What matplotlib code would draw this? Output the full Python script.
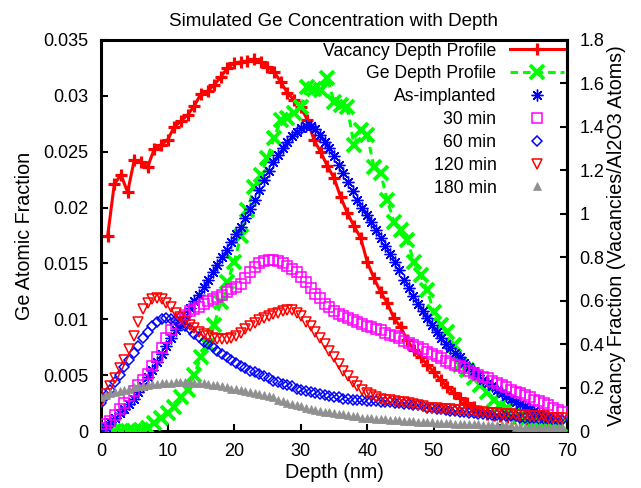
import matplotlib
matplotlib.use("Agg")
import matplotlib.pyplot as plt

plt.rcParams['font.family'] = ['Liberation Sans', 'DejaVu Sans']

# ---- SRIM profiles (right axis units: vacancies / Al2O3 atom) ----
vac_depth = list(range(1, 70))
vac_frac = [0.898, 1.137, 1.179, 1.100, 1.248, 1.238, 1.215, 1.298, 1.317, 1.340,
            1.400, 1.427, 1.455, 1.496, 1.552, 1.565, 1.593, 1.630, 1.671, 1.694,
            1.699, 1.703, 1.713, 1.699, 1.676, 1.653, 1.607, 1.556, 1.524, 1.492,
            1.432, 1.340, 1.284, 1.220, 1.165, 1.077, 1.004, 0.944, 0.889, 0.778,
            0.704, 0.640, 0.589, 0.520, 0.479, 0.419, 0.373, 0.341, 0.304, 0.272,
            0.235, 0.203, 0.175, 0.152, 0.129, 0.110, 0.090, 0.080, 0.075, 0.070,
            0.065, 0.060, 0.055, 0.050, 0.040, 0.020, 0.005, 0.000, 0.000]

ge_depth = list(range(0, 70))
ge_prof = [0.0, 0.0, 0.0, 0.0, 0.0, 0.0, 0.005, 0.014, 0.037, 0.060,
           0.083, 0.110, 0.157, 0.189, 0.258, 0.341, 0.396, 0.488, 0.594, 0.686,
           0.778, 0.898, 1.017, 1.123, 1.179, 1.257, 1.349, 1.432, 1.441, 1.464,
           1.492, 1.584, 1.575, 1.570, 1.625, 1.515, 1.501, 1.492, 1.317, 1.386,
           1.363, 1.215, 1.188, 1.064, 0.962, 0.925, 0.879, 0.778, 0.718, 0.649,
           0.548, 0.488, 0.456, 0.396, 0.304, 0.281, 0.244, 0.212, 0.180, 0.143,
           0.120, 0.106, 0.087, 0.069, 0.055, 0.046, 0.041, 0.037, 0.032, 0.028]

# ---- Annealing simulations (left axis: Ge atomic fraction), 0.7 nm grid ----
depth = [round(0.7 * i, 1) for i in range(100)]
as_impl = [0.0001, 0.0004, 0.0008, 0.0012, 0.0016, 0.0020, 0.0024, 0.0029, 0.0035, 0.0040,
           0.0048, 0.0055, 0.0062, 0.0069, 0.0076, 0.0083, 0.0090, 0.0097, 0.0103, 0.0110,
           0.0116, 0.0122, 0.0129, 0.0135, 0.0142, 0.0149, 0.0156, 0.0162, 0.0169, 0.0176,
           0.0183, 0.0191, 0.0199, 0.0207, 0.0216, 0.0225, 0.0233, 0.0241, 0.0247, 0.0253,
           0.0259, 0.0264, 0.0268, 0.0271, 0.0273, 0.0273, 0.0270, 0.0265, 0.0259, 0.0253,
           0.0246, 0.0238, 0.0231, 0.0223, 0.0215, 0.0207, 0.0200, 0.0193, 0.0187, 0.0180,
           0.0173, 0.0166, 0.0158, 0.0151, 0.0144, 0.0135, 0.0128, 0.0121, 0.0114, 0.0107,
           0.0101, 0.0095, 0.0089, 0.0083, 0.0078, 0.0074, 0.0070, 0.0066, 0.0061, 0.0057,
           0.0054, 0.0050, 0.0046, 0.0043, 0.0040, 0.0037, 0.0034, 0.0031, 0.0029, 0.0026,
           0.0024, 0.0022, 0.0020, 0.0018, 0.0016, 0.0014, 0.0013]
min30 = [0.0003, 0.0006, 0.0009, 0.0014, 0.0020, 0.0025, 0.0031, 0.0036, 0.0041, 0.0046,
         0.0051, 0.0058, 0.0066, 0.0074, 0.0083, 0.0090, 0.0096, 0.0100, 0.0104, 0.0107,
         0.0109, 0.0111, 0.0114, 0.0116, 0.0118, 0.0120, 0.0122, 0.0124, 0.0127, 0.0129,
         0.0132, 0.0137, 0.0142, 0.0147, 0.0150, 0.0152, 0.0153, 0.0153, 0.0152, 0.0150,
         0.0148, 0.0145, 0.0142, 0.0138, 0.0133, 0.0128, 0.0123, 0.0119, 0.0114, 0.0111,
         0.0107, 0.0105, 0.0103, 0.0101, 0.0099, 0.0098, 0.0096, 0.0094, 0.0093, 0.0091,
         0.0090, 0.0088, 0.0086, 0.0085, 0.0083, 0.0081, 0.0079, 0.0077, 0.0075, 0.0073,
         0.0071, 0.0069, 0.0067, 0.0065, 0.0063, 0.0061, 0.0059, 0.0058, 0.0056, 0.0054,
         0.0052, 0.0050, 0.0048, 0.0047, 0.0045, 0.0043, 0.0041, 0.0039, 0.0037, 0.0035,
         0.0034, 0.0032, 0.0030, 0.0028, 0.0027, 0.0025, 0.0023, 0.0021, 0.0019, 0.0017]
min60 = [0.0025, 0.0031, 0.0037, 0.0044, 0.0050, 0.0057, 0.0064, 0.0070, 0.0076, 0.0083,
         0.0089, 0.0094, 0.0098, 0.0100, 0.0101, 0.0100, 0.0099, 0.0096, 0.0094, 0.0091,
         0.0087, 0.0084, 0.0080, 0.0078, 0.0075, 0.0072, 0.0069, 0.0066, 0.0064, 0.0061,
         0.0058, 0.0056, 0.0054, 0.0053, 0.0051, 0.0049, 0.0047, 0.0045, 0.0044, 0.0042,
         0.0041, 0.0040, 0.0038, 0.0037, 0.0036, 0.0035, 0.0034, 0.0033, 0.0032, 0.0031,
         0.0030, 0.0030, 0.0029, 0.0029, 0.0028, 0.0028, 0.0028, 0.0027, 0.0027, 0.0027,
         0.0026, 0.0026, 0.0026, 0.0025, 0.0025, 0.0024, 0.0024, 0.0023, 0.0023, 0.0022,
         0.0021, 0.0021, 0.0020, 0.0020, 0.0019, 0.0018, 0.0018, 0.0017, 0.0017, 0.0016,
         0.0016, 0.0015, 0.0015, 0.0015, 0.0014, 0.0014, 0.0014, 0.0013, 0.0013, 0.0013,
         0.0012, 0.0012, 0.0012, 0.0012, 0.0011, 0.0011, 0.0011, 0.0010, 0.0010, 0.0010]
min120 = [0.0026, 0.0033, 0.0040, 0.0047, 0.0056, 0.0064, 0.0073, 0.0085, 0.0098, 0.0109,
          0.0115, 0.0118, 0.0119, 0.0118, 0.0115, 0.0111, 0.0106, 0.0102, 0.0098, 0.0095,
          0.0092, 0.0089, 0.0087, 0.0085, 0.0083, 0.0082, 0.0082, 0.0082, 0.0083, 0.0085,
          0.0088, 0.0091, 0.0094, 0.0097, 0.0099, 0.0101, 0.0103, 0.0105, 0.0106, 0.0107,
          0.0108, 0.0108, 0.0106, 0.0103, 0.0098, 0.0094, 0.0089, 0.0083, 0.0078, 0.0072,
          0.0066, 0.0060, 0.0054, 0.0049, 0.0044, 0.0040, 0.0037, 0.0034, 0.0032, 0.0030,
          0.0029, 0.0028, 0.0028, 0.0027, 0.0026, 0.0026, 0.0025, 0.0024, 0.0023, 0.0022,
          0.0021, 0.0021, 0.0021, 0.0020, 0.0020, 0.0020, 0.0019, 0.0019, 0.0019, 0.0018,
          0.0018, 0.0017, 0.0017, 0.0016, 0.0016, 0.0016, 0.0015, 0.0015, 0.0015, 0.0014,
          0.0014, 0.0014, 0.0013, 0.0013, 0.0013, 0.0013, 0.0012, 0.0012, 0.0012, 0.0012]
min180 = [0.0030, 0.0032, 0.0034, 0.0035, 0.0036, 0.0037, 0.0038, 0.0039, 0.0040, 0.0040,
          0.0041, 0.0042, 0.0042, 0.0043, 0.0043, 0.0043, 0.0044, 0.0044, 0.0044, 0.0044,
          0.0043, 0.0043, 0.0043, 0.0042, 0.0041, 0.0041, 0.0040, 0.0039, 0.0038, 0.0038,
          0.0037, 0.0036, 0.0035, 0.0034, 0.0033, 0.0032, 0.0031, 0.0030, 0.0028, 0.0027,
          0.0025, 0.0024, 0.0023, 0.0022, 0.0021, 0.0020, 0.0019, 0.0018, 0.0017, 0.0017,
          0.0016, 0.0015, 0.0015, 0.0014, 0.0013, 0.0013, 0.0012, 0.0012, 0.0012, 0.0011,
          0.0011, 0.0011, 0.0010, 0.0010, 0.0010, 0.0009, 0.0009, 0.0009, 0.0008, 0.0008,
          0.0008, 0.0008, 0.0007, 0.0007, 0.0007, 0.0007, 0.0006, 0.0006, 0.0006, 0.0006,
          0.0006, 0.0006, 0.0005, 0.0005, 0.0005, 0.0005, 0.0005, 0.0005, 0.0005, 0.0004,
          0.0004, 0.0004, 0.0004, 0.0004, 0.0004, 0.0004, 0.0004, 0.0004, 0.0004, 0.0004]

x_ticks = [0, 10, 20, 30, 40, 50, 60, 70]
y_ticks = [0, 0.005, 0.01, 0.015, 0.02, 0.025, 0.03, 0.035]
y_tick_labels = ["0", "0.005", "0.01", "0.015", "0.02", "0.025", "0.03", "0.035"]
y2_ticks = [0, 0.2, 0.4, 0.6, 0.8, 1.0, 1.2, 1.4, 1.6, 1.8]
y2_tick_labels = ["0", "0.2", "0.4", "0.6", "0.8", "1", "1.2", "1.4", "1.6", "1.8"]

Y1MAX = 0.035
Y2MAX = 1.8
scale = Y1MAX / Y2MAX

fig = plt.figure(figsize=(6.41, 4.88), dpi=100)
ax = fig.add_axes([101/641, 1-431/488, (567-101)/641, (431-40)/488])

ax.plot(vac_depth, [v*scale for v in vac_frac], color='#ff0000', lw=2.2,
        marker='+', ms=9, mew=2.3, label='Vacancy Depth Profile', zorder=2)
ax.plot(ge_depth, [v*scale for v in ge_prof], color='#00ff00', lw=2.2, ls=(0, (2.5, 1.6)),
        marker='x', ms=9.5, mew=2.8, label='Ge Depth Profile', zorder=3)
ax.plot(depth[:len(as_impl)], as_impl, ls='none', marker=(8, 2, 0), ms=8.5, mew=1.0,
        color='#0000ff', label='As-implanted', zorder=4)
ax.plot(depth, min30, ls='none', marker='s', ms=7.0, mew=1.1, mfc='none',
        mec='#ff00ff', label='30 min', zorder=5)
ax.plot(depth, min60, ls='none', marker='D', ms=5.2, mew=1.1, mfc='none',
        mec='#0000ff', label='60 min', zorder=6)
ax.plot(depth, min120, ls='none', marker='v', ms=7.5, mew=1.1, mfc='none',
        mec='#ff0000', label='120 min', zorder=7)
ax.plot(depth, min180, ls='none', marker='^', ms=6.0, mew=0.5, mfc='#909090',
        mec='#909090', label='180 min', zorder=8)

ax.set_xlim(0, 70)
ax.set_ylim(0, Y1MAX)
ax.set_xticks(x_ticks)
ax.set_yticks(y_ticks)
ax.set_yticklabels(y_tick_labels)
ax.tick_params(axis='both', direction='in', length=5, width=1.5, labelsize=13)
ax.tick_params(axis='x', pad=9)
ax.tick_params(axis='y', pad=9)
for s in ax.spines.values():
    s.set_linewidth(2.2)

sec = ax.secondary_yaxis('right', functions=(lambda v: v / scale, lambda v: v * scale))
sec.set_yticks(y2_ticks)
sec.set_yticklabels(y2_tick_labels)
sec.tick_params(direction='in', length=5, width=1.5, labelsize=13, pad=9)
sec.spines['right'].set_linewidth(2.2)
sec.set_ylabel('Vacancy Fraction (Vacancies/Al2O3 Atoms)', fontsize=14.2, labelpad=2)

ax.set_xlabel('Depth (nm)', fontsize=14.2, labelpad=2)
ax.set_ylabel('Ge Atomic Fraction', fontsize=14.2, labelpad=7)
ax.set_title('Simulated Ge Concentration with Depth', fontsize=13.5, pad=10)

leg = ax.legend(loc='upper right', markerfirst=False, frameon=False, fontsize=12.7,
                handlelength=3.1, handletextpad=0.75, labelspacing=0.33,
                borderaxespad=0.05, borderpad=0.1, numpoints=1)

fig.savefig('out.png', dpi=100)
